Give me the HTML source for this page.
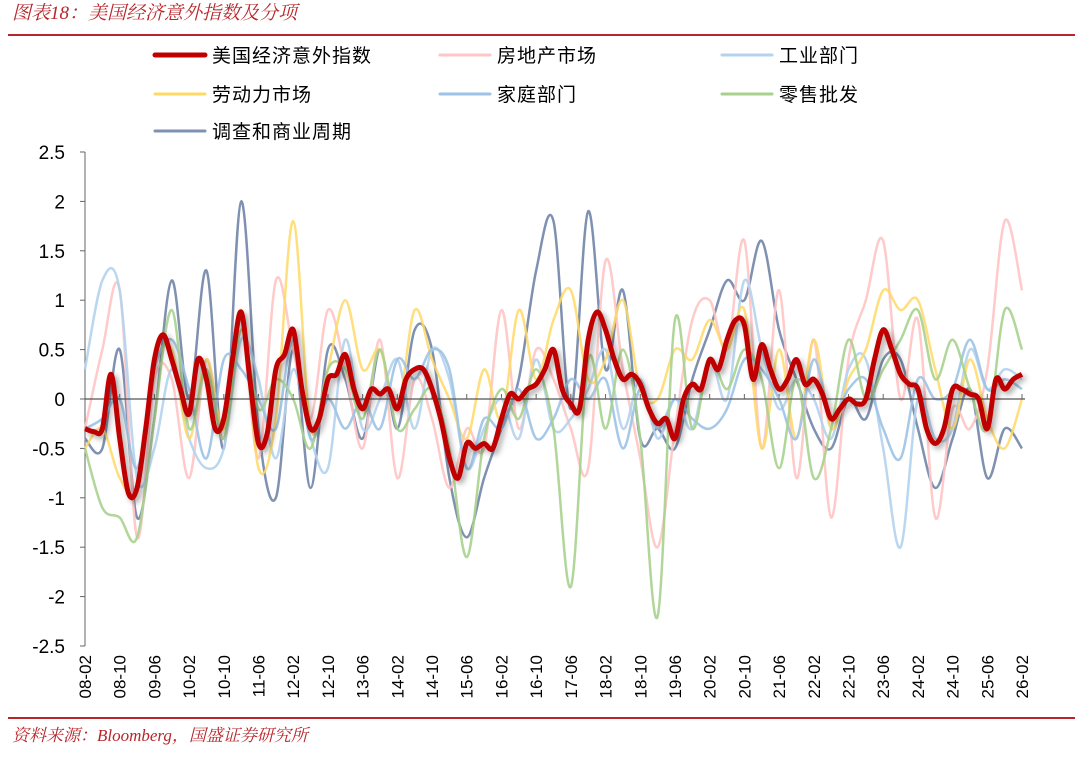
<!DOCTYPE html>
<html><head><meta charset="utf-8"><style>
body{margin:0;background:#fff;width:1080px;height:753px;overflow:hidden;font-family:"Liberation Sans","Noto Sans CJK SC",sans-serif}
</style></head><body>
<svg id="c" width="1080" height="753" xmlns="http://www.w3.org/2000/svg">
<defs><filter id="sh" x="-5%" y="-20%" width="110%" height="140%"><feDropShadow dx="3" dy="3" stdDeviation="3" flood-color="#000" flood-opacity="0.35"/></filter></defs>
<text x="12" y="19" font-size="19" font-style="italic" fill="#b8262b" font-family="Liberation Serif,'Noto Serif CJK SC',serif">图表18：美国经济意外指数及分项</text>
<rect x="8" y="34" width="1067" height="2" fill="#b8262b"/>
<rect x="8" y="717" width="1067" height="2" fill="#b8262b"/>
<text x="12" y="741" font-size="17" font-style="italic" fill="#b8262b" font-family="Liberation Serif,'Noto Serif CJK SC',serif">资料来源：Bloomberg，国盛证券研究所</text>
<g id="legend"></g>
<g id="axes"></g>
<g id="series"></g>
</svg>
<script>
const startYear = 2008, startMonth = 2, totalMonths = 216;
const yTicks = [2.5, 2, 1.5, 1, 0.5, 0, -0.5, -1, -1.5, -2, -2.5];
const yTickLabels = ["2.5","2","1.5","1","0.5","0","-0.5","-1","-1.5","-2","-2.5"];
const xTickLabels = ["08-02","08-10","09-06","10-02","10-10","11-06","12-02","12-10","13-06","14-02","14-10","15-06","16-02","16-10","17-06","18-02","18-10","19-06","20-02","20-10","21-06","22-02","22-10","23-06","24-02","24-10","25-06","26-02"];
const seriesNames = ["美国经济意外指数","房地产市场","工业部门","劳动力市场","家庭部门","零售批发","调查和商业周期"];
const mainVals = [-0.3,-0.33,-0.3,0.25,-0.4,-0.95,-0.9,-0.3,0.4,0.65,0.4,0.1,-0.15,0.4,0.2,-0.3,-0.2,0.4,0.88,0.2,-0.45,-0.35,0.3,0.45,0.7,0.1,-0.3,-0.2,0.2,0.25,0.45,0.1,-0.1,0.1,0.05,0.1,-0.1,0.2,0.3,0.3,0.1,-0.2,-0.6,-0.8,-0.45,-0.5,-0.45,-0.5,-0.2,0.05,0.0,0.1,0.15,0.3,0.5,0.1,-0.05,-0.1,0.6,0.88,0.7,0.4,0.2,0.25,0.15,-0.1,-0.25,-0.2,-0.4,0.0,0.15,0.1,0.4,0.3,0.6,0.8,0.75,0.2,0.55,0.3,0.1,0.2,0.4,0.15,0.2,0.05,-0.2,-0.1,0.0,-0.05,0.0,0.4,0.7,0.5,0.25,0.15,0.1,-0.3,-0.45,-0.3,0.1,0.1,0.05,0.0,-0.3,0.2,0.1,0.2,0.25];
const housingVals = [-0.3,0.5,1.1,-1.4,0.2,0.2,-0.8,0.4,-0.4,0.8,-0.6,1.2,0.5,-0.2,0.9,0.3,-0.5,0.6,-0.8,0.2,-0.2,-0.9,-0.3,-0.5,0.9,-0.3,0.5,0.2,-0.3,-0.7,1.4,0.3,-0.6,-1.5,-0.3,0.8,1.0,0.5,1.6,-0.5,1.1,-0.8,0.6,-1.2,0.4,1.0,1.6,0.0,0.8,-1.2,-0.1,-0.3,0.3,1.8,1.1];
const industryVals = [0.3,1.2,1.1,-0.8,-0.5,0.3,-0.4,-0.7,-0.5,0.6,0.2,-0.6,0.3,-0.4,-0.7,0.6,-0.3,0.0,0.4,-0.3,0.5,0.2,-0.7,-0.3,0.0,-0.4,0.4,-0.3,-0.2,0.1,0.5,-0.3,0.2,-0.4,0.0,-0.3,0.4,0.0,1.2,0.5,-0.1,0.2,0.0,-0.4,0.3,0.4,-0.5,-1.5,0.0,-0.4,-0.3,0.5,0.1,0.3,0.2];
const laborVals = [-0.5,-0.3,-0.8,-0.9,0.3,0.5,-0.4,0.4,-0.3,0.9,-0.7,-0.2,1.8,-0.3,0.3,1.0,0.3,0.5,-0.1,0.9,0.4,0.0,-0.4,0.3,-0.2,0.9,0.2,0.8,1.1,0.2,0.4,1.0,0.1,0.0,0.5,0.4,0.8,0.5,0.9,-0.5,0.5,-0.4,0.6,-0.3,0.2,0.5,1.1,0.9,1.0,0.3,-0.3,0.4,-0.2,-0.5,0.0];
const householdVals = [-0.3,-0.2,0.0,-0.7,0.3,0.6,0.1,-0.6,0.4,0.3,0.0,-0.3,0.6,-0.4,0.0,-0.3,0.0,-0.3,0.4,0.2,0.5,0.3,-0.7,-0.2,-0.3,0.1,-0.4,-0.2,0.2,0.0,0.2,-0.5,0.1,-0.3,0.0,-0.2,-0.3,-0.1,0.4,0.3,0.0,-0.4,0.4,-0.2,0.1,0.2,-0.3,-0.6,0.2,0.0,0.1,0.6,0.1,0.2,0.1];
const retailVals = [-0.5,-1.1,-1.2,-1.4,-0.2,0.9,-0.3,0.3,-0.4,0.7,-0.1,0.2,0.0,-0.5,0.3,0.3,-0.2,0.5,-0.3,-0.1,0.1,-0.5,-1.6,-0.4,0.1,-0.2,0.3,-0.3,-1.9,0.4,-0.3,0.5,-0.4,-2.2,0.8,-0.3,0.4,0.1,0.5,0.2,-0.7,0.2,-0.8,-0.3,0.6,0.0,0.3,0.6,0.9,0.2,0.6,0.1,-0.3,0.9,0.5];
const surveyVals = [-0.4,-0.5,0.5,-1.2,-0.2,1.2,0.0,1.3,-0.5,2.0,-0.3,-1.0,0.5,-0.9,0.5,0.2,-0.4,0.5,-0.3,0.7,0.5,-0.8,-1.4,-0.8,-0.3,0.2,1.3,1.8,-0.1,1.9,0.3,1.1,-0.4,-0.3,-0.5,0.2,0.7,1.2,1.0,1.6,0.7,0.2,-0.3,-0.5,0.0,-0.2,0.4,0.4,-0.3,-0.9,-0.4,0.1,-0.8,-0.3,-0.5];

const NS="http://www.w3.org/2000/svg";
const X0=85,X1=1022,Y0=152,Y1=646,YMAX=2.5,YMIN=-2.5;
const xS=m=>X0+(X1-X0)*m/totalMonths;
const yS=v=>Y0+(YMAX-v)/(YMAX-YMIN)*(Y1-Y0);
function mk(tag,attrs,parent){const e=document.createElementNS(NS,tag);for(const k in attrs)e.setAttribute(k,attrs[k]);parent.appendChild(e);return e;}
const axes=document.getElementById('axes'), ser=document.getElementById('series'), leg=document.getElementById('legend');
let el=mk('line',{x1:X0,y1:Y0,x2:X0,y2:Y1,stroke:'#666','stroke-width':1},axes);


yTicks.forEach((v,i)=>{
  const t=mk('line',{x1:X0-5,y1:yS(v),x2:X0,y2:yS(v),stroke:'#666'},axes);
  
  
  const tx=mk('text',{x:X0-20,y:yS(v)+7,'text-anchor':'end','font-size':19,fill:'#000'},axes);
  tx.textContent=yTickLabels[i];
  
  
});
xTickLabels.forEach((lab,i)=>{
  const x=xS(i*8);
  const t=mk('line',{x1:x,y1:yS(0),x2:x,y2:yS(0)-5,stroke:'#666'},axes);
  
  
  const tx=mk('text',{x:0,y:0,'text-anchor':'end','font-size':17,fill:'#000',transform:`translate(${x+6},${Y1+9}) rotate(-90)`},axes);
  tx.textContent=lab;
  
  
});
const series=[
 {v:surveyVals,step:4,c:'#7f91b0',w:2.5,o:1,n:'survey-line'},
 {v:housingVals,step:4,c:'#ffc4c4',w:2.5,o:0.9,n:'housing-line'},
 {v:industryVals,step:4,c:'#b4d3ee',w:2.5,o:0.9,n:'industry-line'},
 {v:laborVals,step:4,c:'#ffd966',w:2.5,o:0.85,n:'labor-line'},
 {v:householdVals,step:4,c:'#9dc3e6',w:2.5,o:0.9,n:'household-line'},
 {v:retailVals,step:4,c:'#a9d18e',w:2.5,o:0.9,n:'retail-line'},
];
function pathD(vals,step){
  const p=vals.map((v,i)=>[xS(i*step),yS(v)]);
  let d=`M${p[0][0]},${p[0][1]}`;
  for(let i=0;i<p.length-1;i++){
    const a=p[Math.max(0,i-1)],b=p[i],c=p[i+1],e=p[Math.min(p.length-1,i+2)];
    d+=` C${b[0]+(c[0]-a[0])/6},${b[1]+(c[1]-a[1])/6} ${c[0]-(e[0]-b[0])/6},${c[1]-(e[1]-b[1])/6} ${c[0]},${c[1]}`;
  }
  return d;
}
series.forEach(s=>{
  const p=mk('path',{d:pathD(s.v,s.step),fill:'none',stroke:s.c,'stroke-width':s.w,'stroke-opacity':s.o,'stroke-linejoin':'round'},ser);
  
  
});
el=mk('line',{x1:X0,y1:yS(0),x2:X1+3,y2:yS(0),stroke:'#555','stroke-width':1.2},ser);


el=mk('path',{d:pathD(mainVals,2),fill:'none',stroke:'#c00000','stroke-width':5,'stroke-linejoin':'round',filter:'url(#sh)'},ser);


const legItems=[
 [155,55,'#c00000',5,seriesNames[0]],[440,55,'#ffc4c4',3,seriesNames[1]],[722,55,'#b4d3ee',3,seriesNames[2]],
 [155,94,'#ffd966',3,'劳动力市场'],[440,94,'#9dc3e6',3,'家庭部门'],[722,94,'#a9d18e',3,seriesNames[5]],
 [155,131,'#7f91b0',3,seriesNames[6]]];
legItems.forEach(it=>{
  const g=mk('g',{},leg);
  
  
  mk('line',{x1:it[0],y1:it[1],x2:it[0]+50,y2:it[1],stroke:it[2],'stroke-width':it[3],'stroke-linecap':'round'},g);
  const t=mk('text',{x:it[0]+57,y:it[1]+7,'font-size':19,fill:'#000','letter-spacing':'1'},g);
  t.textContent=it[4];
});
</script>
</body></html>
